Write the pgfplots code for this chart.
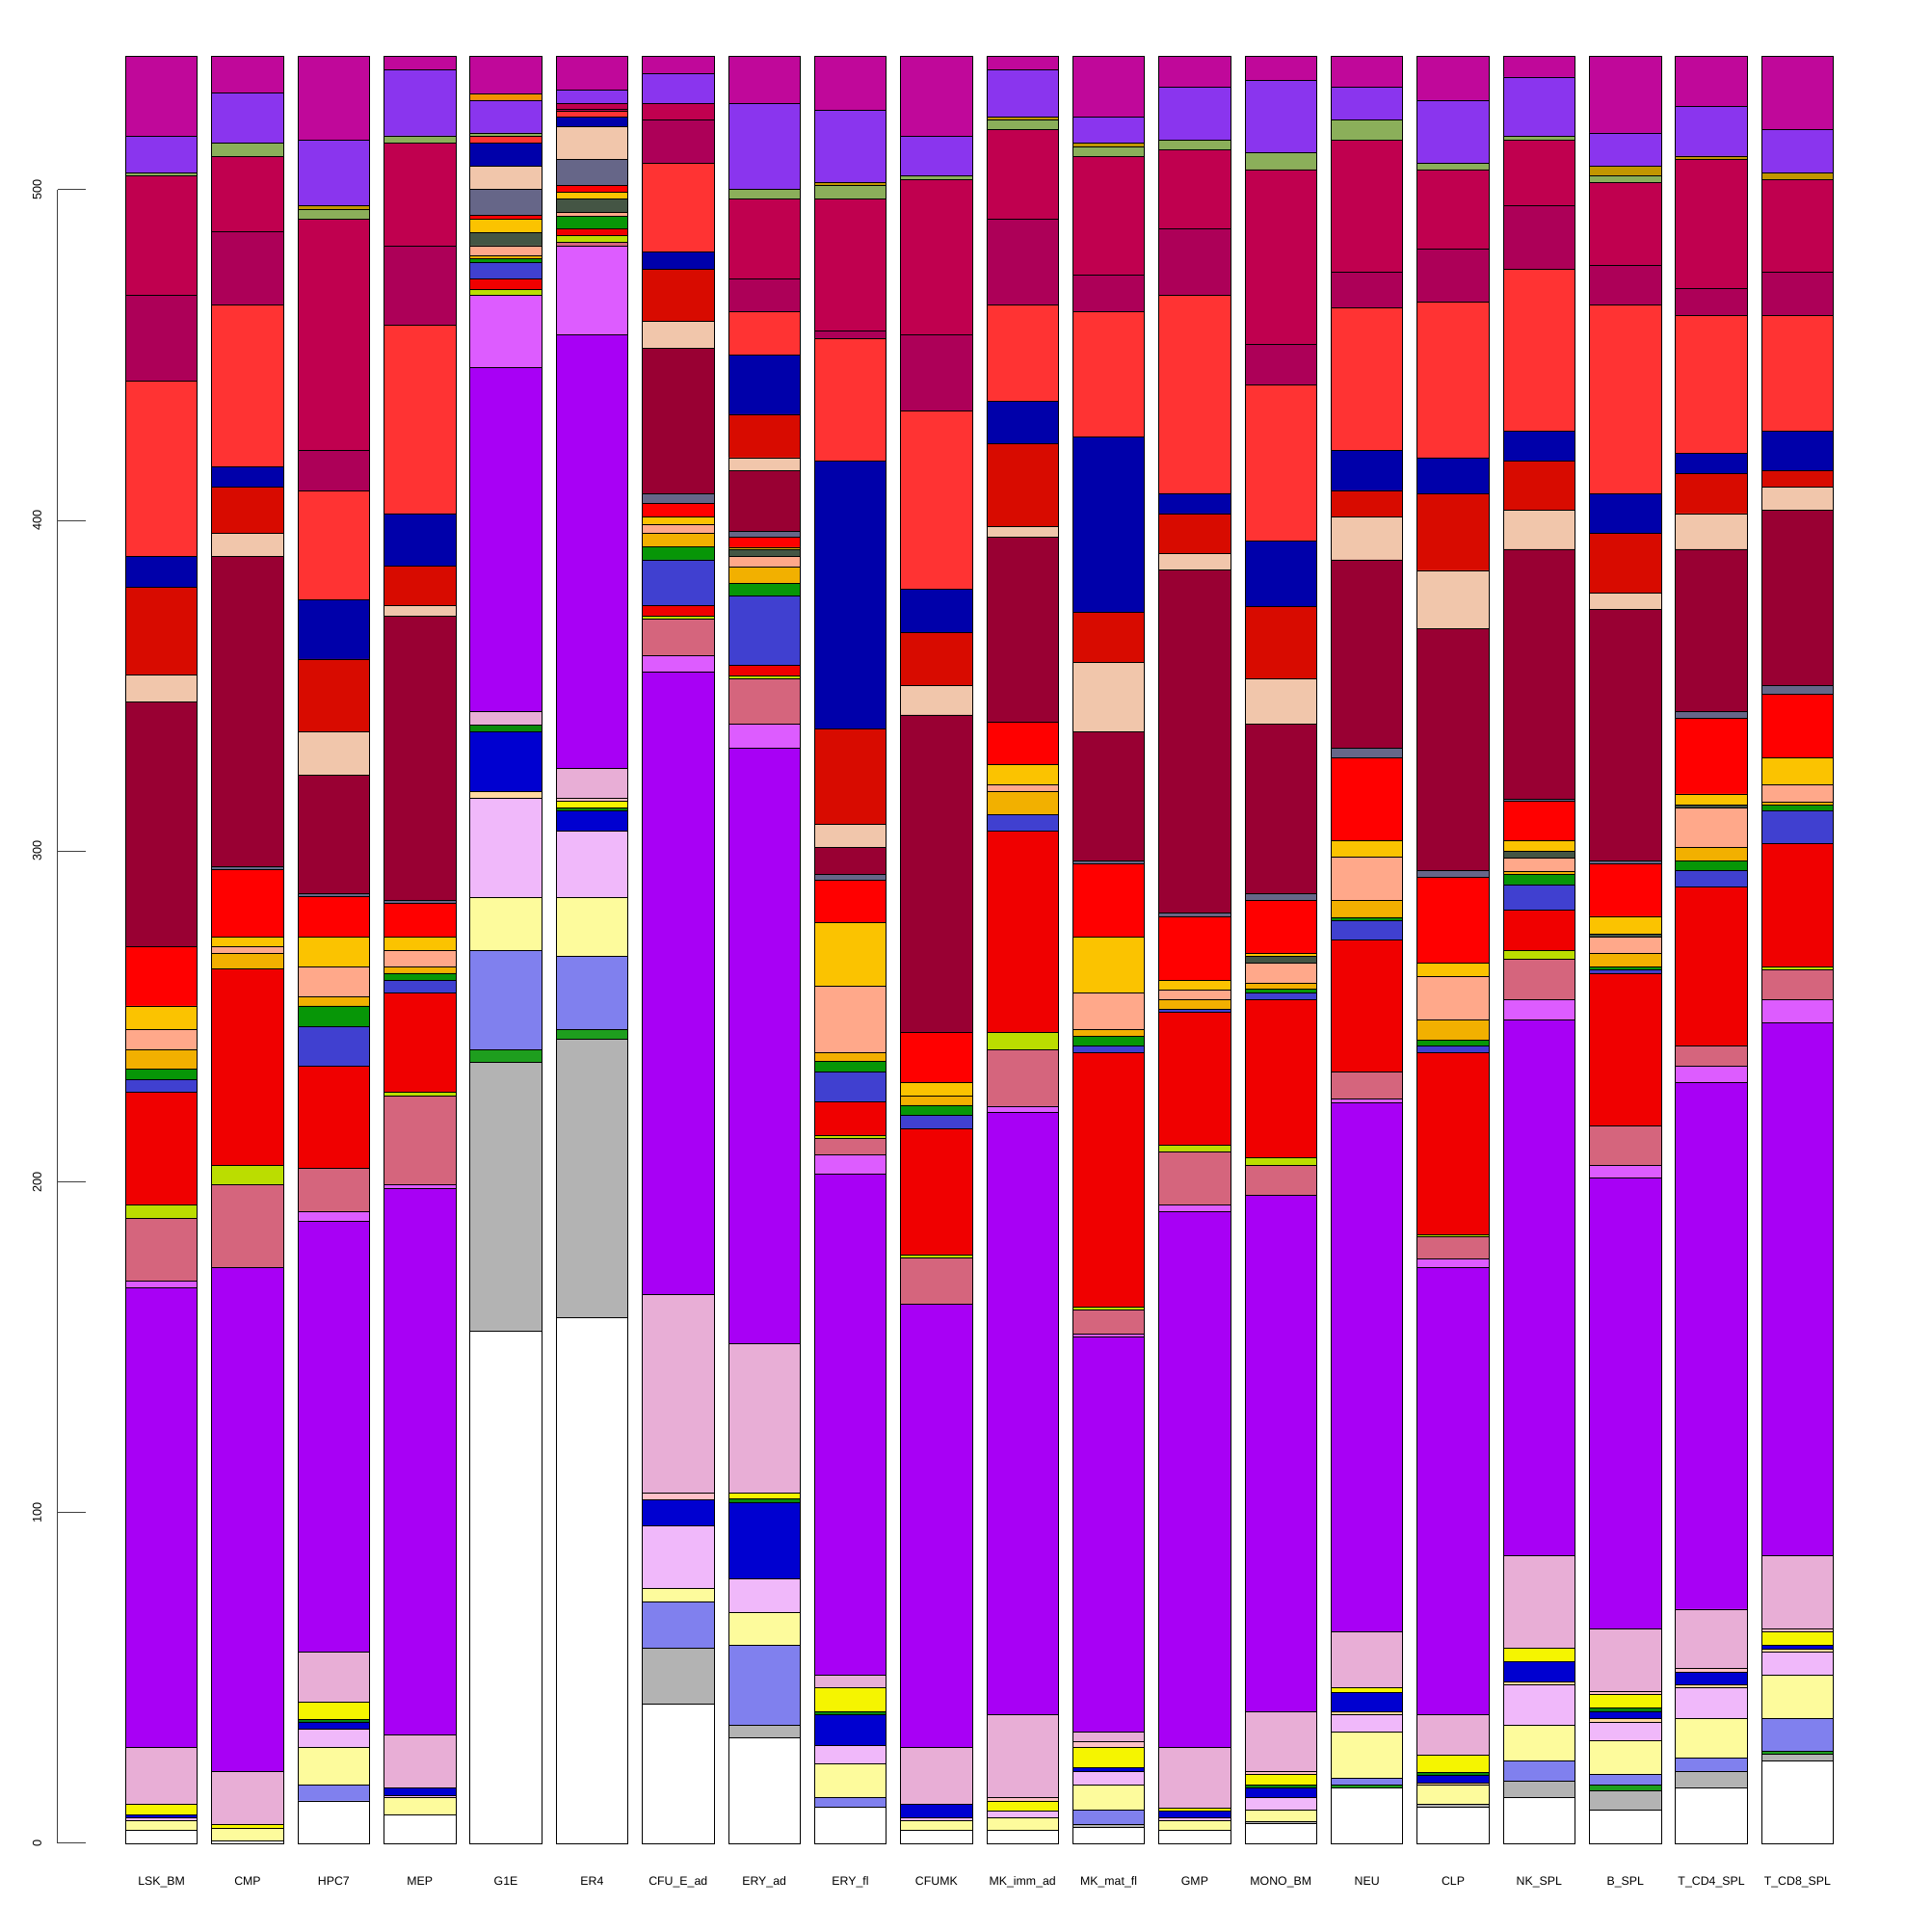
\documentclass[border=0pt]{standalone}
\usepackage{pgfplots}
\usepackage{pgfplotstable}
\pgfplotsset{compat=1.18}
\usepackage{fontspec}
\setmainfont{Liberation Sans}

% segment colours, bottom to top
\definecolor{c1}{HTML}{FFFFFF}
\definecolor{c2}{HTML}{B3B3B3}
\definecolor{c3}{HTML}{1E9E1E}
\definecolor{c4}{HTML}{8080EE}
\definecolor{c5}{HTML}{FDFB9C}
\definecolor{c6}{HTML}{F0B8FA}
\definecolor{c7}{HTML}{FFD8A0}
\definecolor{c8}{HTML}{0000D0}
\definecolor{c9}{HTML}{0A8A0A}
\definecolor{c10}{HTML}{F5F500}
\definecolor{c11}{HTML}{FFC0C8}
\definecolor{c12}{HTML}{E8AED6}
\definecolor{c13}{HTML}{A800F5}
\definecolor{c14}{HTML}{DD5CFF}
\definecolor{c15}{HTML}{D5657D}
\definecolor{c16}{HTML}{BBDD00}
\definecolor{c17}{HTML}{F00000}
\definecolor{c18}{HTML}{4040D0}
\definecolor{c19}{HTML}{079607}
\definecolor{c20}{HTML}{F2B000}
\definecolor{c21}{HTML}{FFA88A}
\definecolor{c22}{HTML}{445544}
\definecolor{c23}{HTML}{FBC300}
\definecolor{c24}{HTML}{FF0000}
\definecolor{c25}{HTML}{666688}
\definecolor{c26}{HTML}{990033}
\definecolor{c27}{HTML}{F1C6AB}
\definecolor{c28}{HTML}{D80B00}
\definecolor{c29}{HTML}{0000AA}
\definecolor{c30}{HTML}{FF3333}
\definecolor{c31}{HTML}{AD0058}
\definecolor{c32}{HTML}{C0004F}
\definecolor{c33}{HTML}{8BAF5A}
\definecolor{c34}{HTML}{C29600}
\definecolor{c35}{HTML}{8A35EE}
\definecolor{c36}{HTML}{F39000}
\definecolor{c37}{HTML}{C0089A}

\pgfplotstableread{
X c1 c2 c3 c4 c5 c6 c7 c8 c9 c10 c11 c12 c13 c14 c15 c16 c17 c18 c19 c20 c21 c22 c23 c24 c25 c26 c27 c28 c29 c30 c31 c32 c33 c34 c35 c36 c37
0 3.8 0 0 0 3.0 0.9 0 1.0 0 3.2 0 17.0 139.2 1.9 18.9 4.1 34.2 3.8 3.1 6.0 6.0 0 7.1 18.0 0 74.0 8.1 26.6 9.3 52.9 26.0 36.1 0.9 0 11.1 0 24.1
1 0.8 0 0 0 3.8 0 0 0 0 1.2 0 16.0 152.4 0 25.0 5.9 59.2 0 0 4.8 2.1 0 2.9 20.2 1.0 93.9 6.8 14.1 6.0 49.0 22.1 22.8 4.2 0 15.0 0 11.1
2 12.8 0 0 4.9 11.2 5.7 0 2.1 0.8 5.3 0 15.1 130.2 2.9 13.2 0 30.9 11.9 6.2 2.8 9.1 0 9.0 12.1 1.0 35.9 13.1 21.9 18.0 32.9 12.2 69.9 3.0 1.0 19.9 0 25.3
3 8.7 0 0 0 5.1 0.7 0 2.3 0 0 0 16.0 165.2 1.2 26.8 1.1 30.1 3.8 2.1 2.0 4.9 0 4.1 10.2 0.8 86.0 3.1 12.0 15.9 57.0 24.0 31.1 2.1 0 19.9 0 4.1
4 155.0 81.1 3.8 30.1 16.0 30.1 1.8 18.3 2.0 0 0 3.9 104.1 21.8 0 1.9 3.2 4.9 1.2 0.9 3.0 3.9 4.1 1.1 7.9 0 7.0 0 7.1 1.9 0 0 1.1 0 9.9 1.9 11.3
5 158.9 84.3 2.9 22.0 17.9 20.0 0 6.3 0.8 2.0 1.0 8.9 131.1 26.8 1.1 2.1 2.0 0 4.0 0 1.1 4.0 2.0 2.0 7.9 0 9.9 0 3.0 1.9 0.5 1.7 0 0 4.0 0 10.2
6 42.1 16.9 0 13.9 4.1 19.0 0 7.9 0 0 2.0 60.0 188.4 4.9 11.0 0.9 3.1 13.9 4.0 3.9 2.9 0 2.1 4.1 2.9 44.1 8.1 15.8 5.3 26.7 13.1 5.0 0 0 9.1 0 5.1
7 31.8 3.9 0 24.1 9.9 10.2 0 23.1 1.1 1.8 0 45.3 180.0 7.1 13.8 0.8 3.3 21.1 3.6 5.1 3.2 2.1 0.6 3.1 1.8 18.2 4.0 13.1 18.0 13.0 10.0 24.1 2.9 0 26.0 0 14.2
8 10.9 0 0 2.9 10.1 5.7 0 9.3 1.0 7.1 0 3.8 151.5 5.9 5.0 0.9 10.0 9.1 3.2 2.7 20.1 0 19.1 12.8 2.0 8.1 6.9 29.0 80.9 37.1 2.1 40.0 4.0 1.0 21.8 0 16.3
9 3.8 0 0 0 3.0 0.9 0 4.2 0 0 0 17.0 134.1 0 14.1 0.8 38.1 4.1 3.1 2.8 0 0 4.1 15.0 0 96.1 9.0 15.9 13.0 54.0 23.0 47.0 1.0 0 12.0 0 24.2
10 3.8 0 0 0 3.9 2.0 0 0 0 3.1 1.0 25.1 182.1 1.9 17.0 5.2 60.9 5.0 0 7.1 1.9 0 6.2 12.8 0 56.0 3.1 25.0 12.9 29.1 26.0 27.1 2.9 0.9 14.2 0 4.1
11 4.9 0.9 0 4.2 7.7 4.1 0 1.0 0 6.1 1.9 2.9 119.3 1.0 7.2 0.9 77.0 2.1 2.9 1.9 11.2 0 16.9 22.0 0.9 39.2 20.9 15.0 53.1 37.9 11.0 35.9 3.1 0.9 8.1 0 18.2
12 3.8 0 0 0 3.0 0.9 0 2.0 0 0.9 0 18.3 162.1 2.0 16.2 1.9 40.2 0.9 0 2.9 2.8 0 3.1 19.3 0.9 103.9 4.9 12.1 6.1 59.9 20.1 23.9 2.9 0 16.1 0 9.2
13 5.9 0.8 0 0 3.3 3.8 0 3.0 0.9 3.2 0.9 18.0 156.2 0 9.1 2.2 47.8 2.1 1.0 2.0 5.9 2.0 1.0 16.0 2.1 51.1 13.8 21.9 19.9 47.2 12.2 52.8 5.1 0 21.9 0 7.2
14 16.7 0 1.0 1.9 14.1 5.2 0.9 5.9 0 1.3 0 16.9 160.0 1.2 8.1 0 39.9 6.0 0.9 5.0 13.1 0 5.1 25.0 3.0 56.9 12.9 8.1 12.1 43.0 11.0 39.8 6.1 0 10.0 0 9.2
15 10.9 1.0 0 0 5.8 0 0.6 2.2 1.0 5.2 0 12.1 135.2 2.8 6.5 0.7 55.1 2.1 1.7 6.2 13.1 0 3.9 26.1 1.9 73.1 17.7 23.1 11.0 47.1 16.0 24.0 1.9 0 19.1 0 13.2
16 13.8 4.9 0 6.1 10.9 12.2 0.9 6.1 0 4.1 0 28.0 162.1 6.0 12.1 2.8 12.2 7.7 3.0 0.9 4.1 2.1 3.2 11.9 0.7 75.5 11.8 14.9 9.1 48.9 19.1 19.9 1.1 0 18.0 0 6.2
17 10.0 5.8 1.9 3.2 10.0 5.8 0.9 2.3 0.9 4.1 1.0 19.0 136.2 4.0 11.9 0 46.1 1.0 0.8 4.2 5.0 0.9 5.3 15.8 0.9 76.2 4.8 18.0 12.0 57.1 12.0 25.0 2.1 2.9 10.1 0 23.1
18 16.9 4.9 0 4.0 12.0 9.2 0.9 3.9 0 0 1.1 17.9 159.3 5.0 6.1 0 47.9 5.0 2.9 4.2 11.9 0.9 3.3 22.8 2.0 49.2 10.8 12.0 6.1 41.9 8.0 39.0 0 1.1 15.0 0 15.1
19 24.8 2.1 1.0 9.9 13.0 6.9 1.1 1.0 0 4.1 1.0 22.1 161.2 6.9 9.0 0.8 37.3 10.0 1.7 1.0 5.3 0 8.0 19.2 2.8 52.9 7.0 4.9 12.1 35.0 13.1 27.9 0 2.0 13.1 0 22.1
}\data

\begin{document}
\begin{tikzpicture}
\path[use as bounding box] (0,0) rectangle (40cm,40cm);
\begin{axis}[
    at={(2.602cm,1.837cm)}, anchor=south west,
    scale only axis,
    width=35.357cm, height=37.042cm,
    xmin=-0.41667, xmax=19.41667,
    ymin=0, ymax=541,
    ybar stacked,
    bar width=0.83333,
    axis line style={draw=none},
    tick style={draw=none},
    ytick=\empty,
    xtick={0,...,19},
    xticklabels={LSK\_BM,CMP,HPC7,MEP,G1E,ER4,CFU\_E\_ad,ERY\_ad,ERY\_fl,CFUMK,MK\_imm\_ad,MK\_mat\_fl,GMP,MONO\_BM,NEU,CLP,NK\_SPL,B\_SPL,T\_CD4\_SPL,T\_CD8\_SPL},
    x tick label style={font=\fontsize{7}{8}\selectfont, anchor=base, yshift=-0.878cm, inner sep=0pt},
    clip=false,
]
\pgfplotsinvokeforeach{1,...,37}{
  \addplot[fill=c#1, draw=black, line width=0.45pt] table[x=X, y=c#1]{\data};
}
% y axis in the R style, to the left of the bars
\draw[line width=0.5pt, draw=black!75] (axis cs:-1.21,0) -- (axis cs:-1.21,500);
\pgfplotsinvokeforeach{0,100,200,300,400,500}{
  \draw[line width=0.5pt, draw=black!75] (axis cs:-1.21,#1) -- ++(-0.154cm,0);
  \node[rotate=90, anchor=base, inner sep=0pt, font=\fontsize{7.2}{8}\selectfont]
    at ([xshift=-0.333cm]axis cs:-1.21,#1) {#1};
}
\end{axis}
\end{tikzpicture}
\end{document}
